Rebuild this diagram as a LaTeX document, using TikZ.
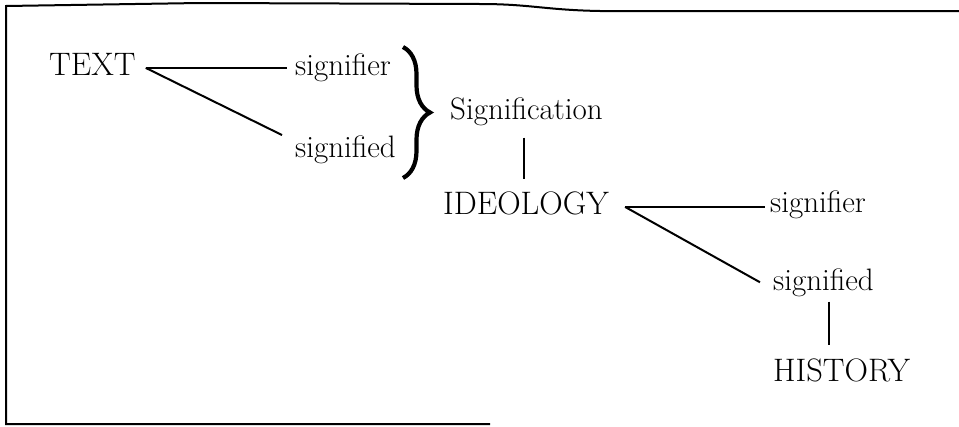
\documentclass[tikz,border=0pt]{standalone}
\usetikzlibrary{decorations.pathreplacing}
\begin{document}
\begin{tikzpicture}[x=1pt,y=-1pt,
  capword/.style={inner sep=0pt, anchor=base west, font=\fontsize{32.5}{38}\selectfont},
  lowword/.style={inner sep=0pt, anchor=base west, font=\fontsize{31}{37}\selectfont},
  link/.style={line width=2pt},
  frameline/.style={line width=2pt},
  bigbrace/.style={decorate, decoration={brace, amplitude=27pt}, line width=4.2pt}]
\useasboundingbox (0,0) rectangle (959,426);
% frame (open on the right, bottom only on the left half)
\draw[frameline] (959,11) -- (600,11) .. controls (545,10) and (530,4) .. (480,4)
  -- (200,3) -- (6,6) -- (6,424) -- (490,424);

% words
\node[capword] (text) at (49,75) {TEXT};
\node[lowword] (sr1) at (295,75) {signifier};
\node[lowword] (sd1) at (295,157) {signified};
\node[lowword] (sign) at (450,119) {Signification};
\node[capword] (ideo) at (443,214) {IDEOLOGY};
\node[lowword] (sr2) at (770,212) {signifier};
\node[lowword] (sd2) at (773,290) {signified};
\node[capword] (hist) at (773,381) {HISTORY};

% TEXT fork
\coordinate (t0) at ([xshift=10pt,yshift=-4pt]text.east);
\coordinate (t1) at ([xshift=-8pt]sr1.west);
\draw[link] (t0) -- (t0 -| t1);
\draw[link] (t0) -- ([xshift=-13pt]sd1.north west);

% brace
\coordinate (b1) at (403,47);
\coordinate (b2) at (403,178);
\draw[bigbrace] (b1) -- (b2);

% Signification - IDEOLOGY
\coordinate (s1) at ([xshift=-2pt,yshift=-12pt]sign.south);
\coordinate (s2) at ([yshift=12pt]ideo.north);
\draw[link] (s1) -- (s1 |- s2);

% IDEOLOGY fork
\coordinate (i0) at ([xshift=16pt,yshift=-4pt]ideo.east);
\coordinate (e2) at ([xshift=-5pt]sr2.west);
\draw[link] (i0) -- (i0 -| e2);
\draw[link] (i0) -- ([xshift=-13pt]sd2.west);

% signified - HISTORY
\coordinate (v1) at ([xshift=56pt,yshift=-5pt]sd2.south west);
\coordinate (v2) at ([yshift=13pt]hist.north);
\draw[link] (v1) -- (v1 |- v2);
\end{tikzpicture}
\end{document}
